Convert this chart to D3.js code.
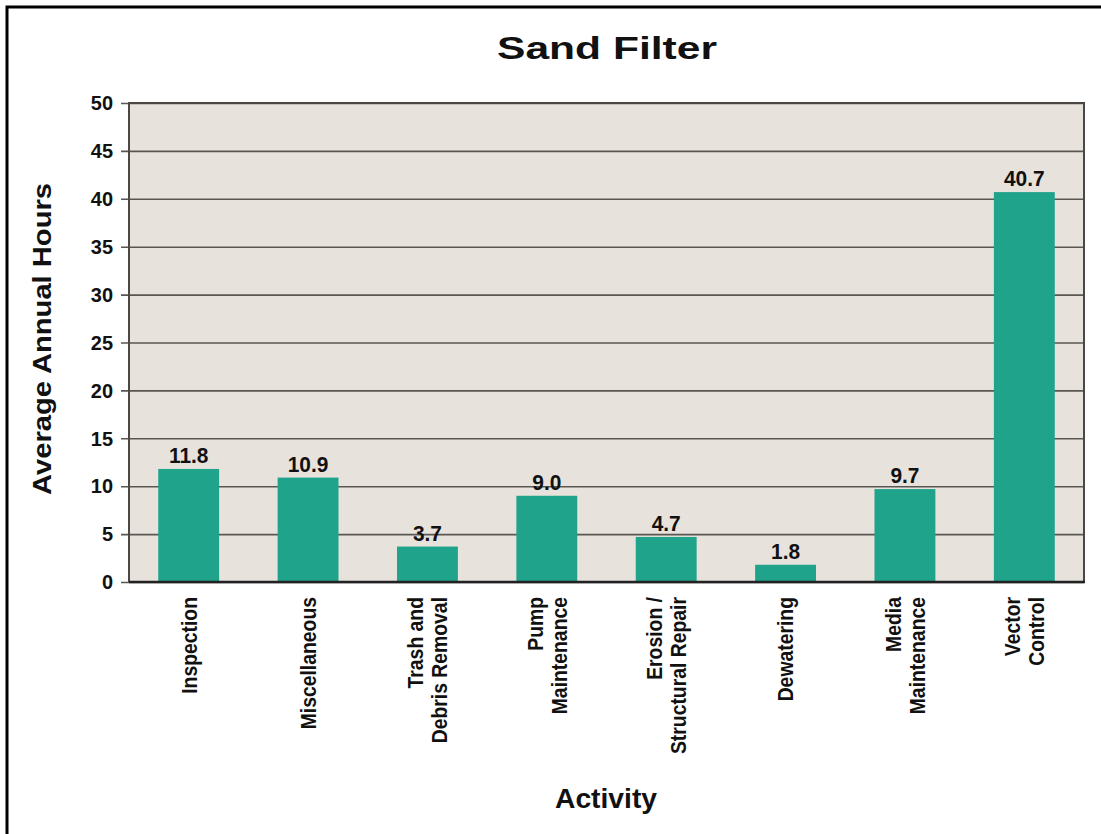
<!DOCTYPE html>
<html>
<head>
<meta charset="utf-8">
<script src="https://cdn.jsdelivr.net/npm/d3@7"></script>
<style>
  html, body { margin: 0; padding: 0; background: #ffffff; overflow: hidden; }
  svg { display: block; }
</style>
</head>
<body>
<svg id="chart" width="1101" height="834"></svg>
<script>
// Sand filter maintenance: average annual hours per activity
const categories = [
  ["Inspection"],
  ["Miscellaneous"],
  ["Trash and", "Debris Removal"],
  ["Pump", "Maintenance"],
  ["Erosion /", "Structural Repair"],
  ["Dewatering"],
  ["Media", "Maintenance"],
  ["Vector", "Control"]
];
const hours = [11.8, 10.9, 3.7, 9.0, 4.7, 1.8, 9.7, 40.7];
const yTicks = [0, 5, 10, 15, 20, 25, 30, 35, 40, 45, 50];

const titleText = "Sand Filter";
const xTitle = "Activity";
const yTitle = "Average Annual Hours";

const svg = d3.select("#chart");
const plot = { left: 129, top: 103, right: 1084, bottom: 582 };
const font = "'Liberation Sans', Arial, Helvetica, sans-serif";

// squeeze text horizontally to mimic a condensed face
function condense(sel, factor) {
  sel.each(function () {
    const len = this.getComputedTextLength();
    d3.select(this).attr("textLength", len * factor).attr("lengthAdjust", "spacingAndGlyphs");
  });
}

// outer frame: only the top and left edges fall inside the page
svg.append("path")
  .attr("d", "M7,840V7H1110")
  .attr("fill", "none").attr("stroke", "#000").attr("stroke-width", 3);

const keys = categories.map(c => c.join(" "));
const x = d3.scaleBand().domain(keys).range([plot.left, plot.right]).paddingInner(0.49).paddingOuter(0.245);
const y = d3.scaleLinear().domain([0, 50]).range([plot.bottom, plot.top]);

// plot background
svg.append("rect")
  .attr("x", plot.left).attr("y", plot.top)
  .attr("width", plot.right - plot.left).attr("height", plot.bottom - plot.top)
  .attr("fill", "#e7e2dc");

// y axis with gridlines drawn as extended ticks
const yAxis = d3.axisLeft(y)
  .tickValues(yTicks)
  .tickSizeInner(-(plot.right - plot.left))
  .tickSizeOuter(0)
  .tickPadding(16)
  .tickFormat(d3.format("d"));

const gy = svg.append("g").attr("transform", `translate(${plot.left},0)`).call(yAxis);
gy.select(".domain").remove();
gy.selectAll(".tick line")
  .attr("x1", -8)
  .attr("stroke", "#5a5753").attr("stroke-width", 1.6);
gy.selectAll(".tick text")
  .attr("font-family", font).attr("font-weight", "bold")
  .attr("font-size", 21).attr("fill", "#111")
  .call(condense, 0.95);

// plot frame: left, top, right
svg.append("path")
  .attr("d", `M${plot.left},${plot.bottom}V${plot.top}H${plot.right}V${plot.bottom}`)
  .attr("fill", "none").attr("stroke", "#4a4744").attr("stroke-width", 2);

// bars
svg.append("g").selectAll("rect")
  .data(hours)
  .join("rect")
  .attr("x", (d, i) => x(keys[i]))
  .attr("width", x.bandwidth())
  .attr("y", d => y(d))
  .attr("height", d => y(0) - y(d))
  .attr("fill", "#1fa38b");

// value labels
svg.append("g").selectAll("text")
  .data(hours)
  .join("text")
  .attr("x", (d, i) => x(keys[i]) + x.bandwidth() / 2)
  .attr("y", d => y(d) - 6)
  .attr("text-anchor", "middle")
  .attr("font-family", font).attr("font-weight", "bold")
  .attr("font-size", 22).attr("fill", "#111")
  .text(d => d.toFixed(1))
  .call(condense, 0.95);

// x axis baseline
svg.append("line")
  .attr("x1", plot.left).attr("x2", plot.right + 1)
  .attr("y1", plot.bottom).attr("y2", plot.bottom)
  .attr("stroke", "#222").attr("stroke-width", 2.5);

// rotated category labels
const lineGap = 24;
const lab = svg.append("g").selectAll("g")
  .data(categories)
  .join("g")
  .attr("transform", (d, i) => `translate(${x(keys[i]) + x.bandwidth() / 2},597) rotate(-90)`);
lab.each(function (lines) {
  const g = d3.select(this);
  const n = lines.length;
  lines.forEach((t, j) => {
    g.append("text")
      .attr("x", 0)
      .attr("y", (j - (n - 1) / 2) * lineGap)
      .attr("dy", "0.36em")
      .attr("text-anchor", "end")
      .attr("font-family", font).attr("font-weight", "bold")
      .attr("font-size", 22).attr("fill", "#111")
      .text(t)
      .call(condense, 0.88);
  });
});

// titles
svg.append("text")
  .attr("x", 607).attr("y", 59)
  .attr("text-anchor", "middle")
  .attr("font-family", font).attr("font-weight", "900")
  .attr("font-size", 31).attr("fill", "#111")
  .attr("textLength", 220).attr("lengthAdjust", "spacingAndGlyphs")
  .text(titleText);

svg.append("text")
  .attr("x", 606).attr("y", 808)
  .attr("text-anchor", "middle")
  .attr("font-family", font).attr("font-weight", "bold")
  .attr("font-size", 27).attr("fill", "#111")
  .attr("textLength", 102).attr("lengthAdjust", "spacingAndGlyphs")
  .text(xTitle);

svg.append("text")
  .attr("transform", "translate(51,339) rotate(-90)")
  .attr("text-anchor", "middle")
  .attr("font-family", font).attr("font-weight", "bold")
  .attr("font-size", 26).attr("fill", "#111")
  .attr("textLength", 312).attr("lengthAdjust", "spacingAndGlyphs")
  .text(yTitle);
</script>
</body>
</html>
